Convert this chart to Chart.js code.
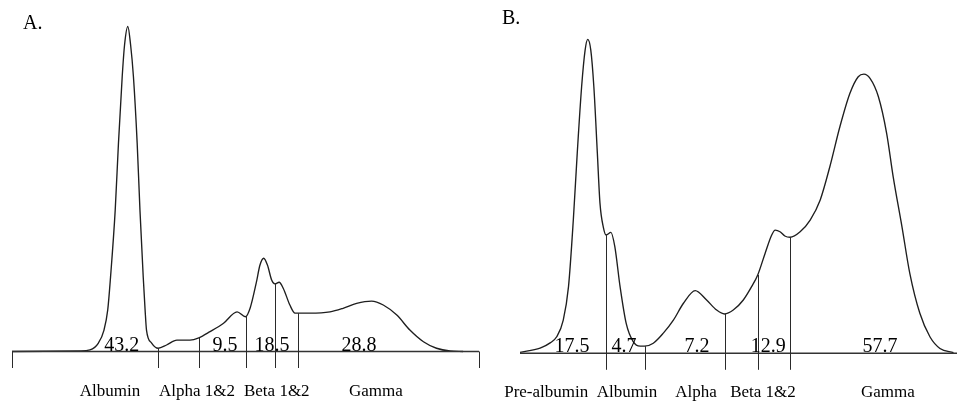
<!DOCTYPE html>
<html>
<head>
<meta charset="utf-8">
<script src="https://cdn.jsdelivr.net/npm/chart.js@4"></script>
<style>
  body { margin: 0; background: #fff; }
  #wrap { position: relative; width: 958px; height: 403px; }
  canvas { position: absolute; top: 0; }
</style>
</head>
<body>
<div id="wrap">
  <canvas id="chartA" width="480" height="403" style="left:0"></canvas>
  <canvas id="chartB" width="478" height="403" style="left:480px"></canvas>
</div>
<script>
// panel A - densitometry trace (migration 0-100, relative absorbance)
const posA = [0, 14.6, 16.7, 18.5, 19.7, 20.5, 21.1, 22.1, 22.8, 23.6, 24.1, 24.8, 25.4, 26.0, 26.8, 27.4, 28.1, 28.5, 28.8, 29.9,
  31.3, 33.1, 35.3, 38.1, 40.0, 42.4, 45.3, 48.2, 50.0, 51.0, 52.3, 53.1, 53.9, 54.7, 55.6, 56.3, 57.2, 58.1, 59.5, 60.6,
  61.3, 63.8, 68.1, 70.9, 73.8, 77.0, 79.5, 82.4, 85.2, 88.1, 90.9, 93.8, 96.6];
const densA = [0, 0.15, 0.5, 2.6, 6.6, 12.8, 22.9, 43.5, 64.2, 84.6, 94.3, 100, 94.3, 84.6, 64.2, 43.5, 22.9, 12.8, 6.6, 2.6,
  1.0, 2.0, 3.5, 3.5, 4.2, 6.1, 8.7, 12.2, 10.7, 13.4, 21.1, 26.6, 28.7, 26.6, 22.0, 20.8, 21.3, 19.4, 14.3, 11.8,
  11.8, 11.8, 12.2, 13.3, 14.8, 15.5, 14.3, 11.2, 6.6, 3.0, 1.0, 0.15, 0];
const cutsA = [31.3, 40.0, 50.0, 56.3, 61.3];
const pctA = ['43.2', '9.5', '18.5', '28.8'];
const pctAtA = [23.5, 45.6, 55.7, 74.3];
const fracA = ['Albumin', 'Alpha 1&2', 'Beta 1&2', 'Gamma'];
const fracAtA = [21.0, 39.6, 56.7, 77.9];

// panel B
const posB = [0, 4.6, 6.9, 8.4, 9.9, 11.1, 12.2, 13.1, 14.1, 14.9, 15.5, 16.2, 16.9, 17.7, 18.3, 19.1, 19.7, 20.8, 21.7, 22.9,
  24.3, 25.9, 27.5, 28.5, 30.5, 32.8, 35.1, 37.4, 40.1, 42.7, 45.0, 46.8, 48.8, 51.1, 53.0, 54.4, 56.1, 57.6, 58.4, 59.5,
  60.6, 61.8, 64.1, 66.4, 68.7, 70.9, 73.2, 75.5, 77.4, 78.7, 80.1, 82.0, 83.9, 85.4, 87.4, 89.2, 91.5, 93.8, 96.1, 99.2];
const densB = [0.3, 1.6, 3.2, 5.1, 10.2, 20.5, 41.0, 61.6, 82.0, 93.3, 96.6, 93.3, 82.0, 61.6, 46.2, 38.6, 36.4, 37.2, 32.8, 20.5,
  9.2, 3.6, 2.2, 2.2, 3.1, 6.2, 10.2, 15.4, 19.3, 16.4, 13.3, 12.1, 13.3, 16.4, 20.5, 24.1, 30.8, 36.4, 37.9, 37.4,
  36.1, 35.7, 37.4, 41.0, 47.2, 57.4, 69.7, 80.0, 85.1, 85.9, 84.6, 79.0, 67.7, 54.3, 39.0, 24.6, 12.3, 5.1, 1.5, 0.2];
const cutsB = [19.7, 28.5, 46.8, 54.4, 61.8];
const pctB = ['17.5', '4.7', '7.2', '12.9', '57.7'];
const pctAtB = [11.9, 23.8, 40.5, 56.8, 82.4];
const fracB = ['Pre-albumin', 'Albumin', 'Alpha', 'Beta 1&2', 'Gamma'];
const fracAtB = [6.0, 24.5, 40.3, 55.6, 84.2];

const serif = '"Liberation Serif", "Times New Roman", serif';

function curveAt(xs, ys, x) {
  for (let i = 1; i < xs.length; i++) {
    if (x <= xs[i]) {
      const t = (x - xs[i - 1]) / (xs[i] - xs[i - 1]);
      return ys[i - 1] + t * (ys[i] - ys[i - 1]);
    }
  }
  return ys[ys.length - 1];
}

// draws the baseline, fraction cuts, percentages and fraction names
const gelPlugin = {
  id: 'gel',
  afterDatasetsDraw(chart, args, o) {
    const ctx = chart.ctx;
    const xs = chart.scales.x, ys = chart.scales.y;
    const y0 = ys.getPixelForValue(0);
    const px = v => xs.getPixelForValue(v);
    ctx.save();
    ctx.strokeStyle = '#333';
    ctx.lineWidth = 1.5;
    ctx.beginPath();
    ctx.moveTo(px(0), y0);
    ctx.lineTo(px(100), y0);
    ctx.stroke();

    ctx.lineWidth = 1;
    ctx.strokeStyle = '#2a2a2a';
    const ticks = o.cuts.map(c => [c, ys.getPixelForValue(curveAt(o.xs, o.ys, c))]);
    if (o.endTicks) { ticks.push([0, y0]); ticks.push([100, y0]); }
    ticks.forEach(([c, top]) => {
      const x = Math.round(px(c)) + 0.5;
      ctx.beginPath();
      ctx.moveTo(x, top);
      ctx.lineTo(x, y0 + 16.5);
      ctx.stroke();
    });

    ctx.fillStyle = '#000';
    ctx.textAlign = 'center';
    ctx.textBaseline = 'alphabetic';
    ctx.font = '20px ' + serif;
    o.pct.forEach((t, i) => ctx.fillText(t, px(o.pctAt[i]), y0 - 1));
    ctx.font = '17px ' + serif;
    o.fracs.forEach((t, i) => ctx.fillText(t, px(o.fracAt[i]), y0 + 44));

    ctx.textAlign = 'left';
    ctx.font = '20px ' + serif;
    ctx.fillText(o.letter, o.letterX, o.letterY);
    ctx.restore();
  }
};

function makeChart(id, xs, ys, pad, extra) {
  return new Chart(document.getElementById(id), {
    type: 'line',
    data: {
      datasets: [{
        data: xs.map((x, i) => ({ x: x, y: ys[i] })),
        borderColor: '#1e1e1e',
        borderWidth: 1.35,
        pointRadius: 0,
        fill: false,
        cubicInterpolationMode: 'monotone',
        clip: false
      }]
    },
    options: {
      responsive: false,
      animation: false,
      layout: { padding: pad },
      scales: {
        x: { type: 'linear', min: 0, max: 100, display: false },
        y: { min: 0, max: 100, display: false }
      },
      plugins: {
        legend: { display: false },
        tooltip: { enabled: false },
        gel: Object.assign({ xs: xs, ys: ys }, extra)
      }
    },
    plugins: [gelPlugin]
  });
}

makeChart('chartA', posA, densA, { left: 12, right: 1, top: 26.5, bottom: 51.5 }, {
  cuts: cutsA, endTicks: true, pct: pctA, pctAt: pctAtA, fracs: fracA, fracAt: fracAtA,
  letter: 'A.', letterX: 23, letterY: 29
});

makeChart('chartB', posB, densB, { left: 40, right: 1, top: 28.3, bottom: 49.7 }, {
  cuts: cutsB, endTicks: false, pct: pctB, pctAt: pctAtB, fracs: fracB, fracAt: fracAtB,
  letter: 'B.', letterX: 22, letterY: 24
});
</script>
</body>
</html>
